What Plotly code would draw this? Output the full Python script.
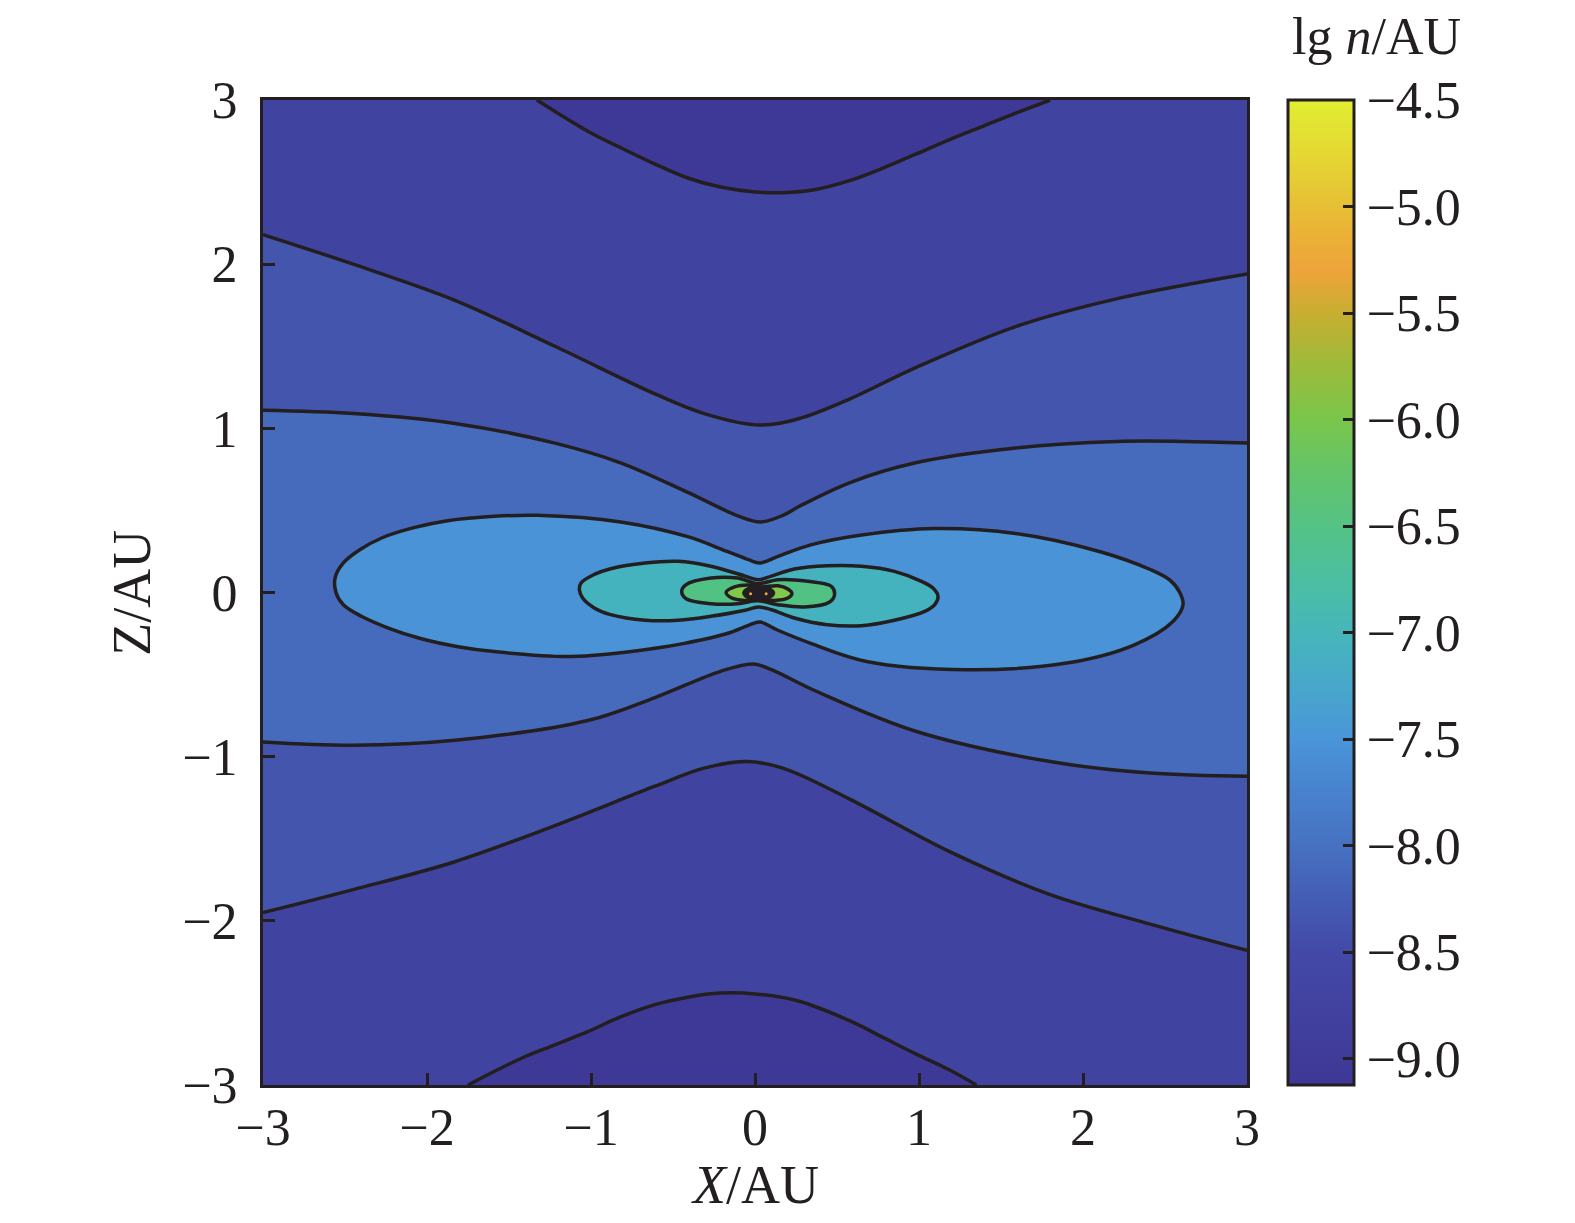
import plotly.graph_objects as go

# lg n contour lines (X/AU, Z/AU)
# -9.0 level: top cap and bottom cap (both end on the frame)
c90_top_x = [-1.33, -1.02, -0.82, -0.61, -0.41, -0.21, 0.00, 0.17, 0.37, 0.58, 0.78, 0.98, 1.19, 1.39, 1.59, 1.80]
c90_top_z = [3.00, 2.81, 2.71, 2.61, 2.525, 2.47, 2.44, 2.435, 2.455, 2.51, 2.585, 2.67, 2.76, 2.84, 2.92, 3.00]
c90_bot_x = [-1.75, -1.43, -1.22, -1.02, -0.82, -0.61, -0.41, -0.21, 0.00, 0.27, 0.58, 0.78, 0.98, 1.19, 1.35]
c90_bot_z = [-3.00, -2.84, -2.755, -2.675, -2.585, -2.51, -2.465, -2.44, -2.445, -2.49, -2.61, -2.71, -2.81, -2.91, -3.00]

# -8.5 level: upper and lower branch, edge to edge
c85_top_x = [-3.00, -2.45, -1.83, -1.22, -0.61, -0.31, 0.03, 0.27, 0.58, 0.98, 1.59, 2.21, 3.00]
c85_top_z = [2.18, 2.00, 1.78, 1.50, 1.21, 1.09, 1.02, 1.06, 1.18, 1.37, 1.62, 1.79, 1.94]
c85_bot_x = [-3.00, -2.45, -1.83, -1.22, -0.61, -0.31, -0.05, 0.17, 0.58, 1.19, 1.80, 2.41, 3.00]
c85_bot_z = [-1.95, -1.81, -1.64, -1.42, -1.18, -1.07, -1.03, -1.07, -1.26, -1.58, -1.84, -2.02, -2.18]

# -8.0 level
c80_top_x = [-3.00, -2.45, -1.83, -1.22, -0.82, -0.41, -0.10, 0.035, 0.17, 0.27, 0.58, 0.98, 1.59, 2.21, 2.61, 3.00]
c80_top_z = [1.11, 1.09, 1.03, 0.91, 0.79, 0.61, 0.465, 0.43, 0.47, 0.525, 0.67, 0.79, 0.88, 0.92, 0.92, 0.91]
c80_bot_x = [-3.00, -2.45, -1.83, -1.02, -0.61, -0.21, -0.01, 0.10, 0.37, 0.98, 1.80, 2.41, 3.00]
c80_bot_z = [-0.91, -0.93, -0.90, -0.78, -0.64, -0.48, -0.435, -0.47, -0.60, -0.845, -1.03, -1.10, -1.12]

# -7.5 level: closed two-lobed loop
c75_x = [-1.33, -0.82, -0.41, -0.17, -0.04, 0.03, 0.14, 0.34, 0.65, 1.09, 1.59, 2.10, 2.41, 2.53,
         2.59, 2.61, 2.55, 2.31, 1.90, 1.29, 0.68, 0.34, 0.14, 0.03, -0.04, -0.17, -0.43, -0.61,
         -1.12, -1.59, -1.81, -2.04, -2.24, -2.40, -2.51, -2.555, -2.56, -2.51, -2.41, -2.27,
         -2.08, -1.875, -1.59, -1.33]
c75_z = [0.47, 0.43, 0.34, 0.25, 0.20, 0.18, 0.22, 0.29, 0.35, 0.39, 0.36, 0.25, 0.14, 0.075,
         0.00, -0.075, -0.175, -0.32, -0.43, -0.47, -0.42, -0.31, -0.23, -0.18, -0.20, -0.25, -0.31, -0.34,
         -0.39, -0.36, -0.33, -0.28, -0.215, -0.145, -0.075, 0.00, 0.09, 0.18, 0.26, 0.335,
         0.395, 0.437, 0.464, 0.47]

# -7.0 level
c70_x = [-0.47, -0.27, -0.06, 0.02, 0.10, 0.24, 0.44, 0.65, 0.85, 1.015, 1.085, 1.116, 1.096,
         1.035, 0.85, 0.65, 0.44, 0.24, 0.10, 0.02, -0.06, -0.27, -0.47, -0.67, -0.88, -0.98,
         -1.051, -1.071, -1.061, -0.98, -0.88, -0.67, -0.47]
c70_z = [0.19, 0.16, 0.10, 0.078, 0.10, 0.143, 0.163, 0.16, 0.129, 0.068, 0.027, -0.023, -0.074,
         -0.115, -0.169, -0.202, -0.196, -0.155, -0.105, -0.088, -0.108, -0.145, -0.169, -0.169, -0.135, -0.094,
         -0.034, 0.017, 0.058, 0.11, 0.145, 0.18, 0.19]

# -6.5 level
c65_x = [-0.27, -0.105, 0.017, 0.139, 0.322, 0.465, 0.485, 0.455, 0.302, 0.139, 0.017,
         -0.105, -0.267, -0.42, -0.447, -0.42, -0.27]
c65_z = [0.088, 0.088, 0.054, 0.078, 0.068, 0.038, -0.013, -0.058, -0.088, -0.074, -0.05,
         -0.068, -0.068, -0.038, 0.007, 0.048, 0.088]

# -6.0 level
c60_x = [-0.044, 0.037, 0.139, 0.20, 0.225, 0.20, 0.119, 0.037, -0.064, -0.145, -0.176, -0.125, -0.044]
c60_z = [0.046, 0.034, 0.041, 0.021, -0.007, -0.034, -0.048, -0.040, -0.048, -0.032, 0.001, 0.034, 0.046]

# -5.5 level (dense core) and the -5.0 spots inside it
c55_x = [-0.034, 0.027, 0.078, 0.113, 0.078, 0.027, -0.034, -0.068, -0.034]
c55_z = [0.027, 0.034, 0.027, -0.003, -0.035, -0.044, -0.035, -0.003, 0.027]
c50_x = [-0.027, 0.068]
c50_z = [-0.007, -0.007]

# colour bar: lg n range and tick labels
cb_min, cb_max = -9.124, -4.5
cb_ticks = [-9.0, -8.5, -8.0, -7.5, -7.0, -6.5, -6.0, -5.5, -5.0, -4.5]
cb_stops = [-9.124, -9.0, -8.5, -8.0, -7.75, -7.5, -7.25, -7.0, -6.75, -6.5, -6.25,
            -6.0, -5.75, -5.5, -5.3, -5.15, -5.0, -4.75, -4.5]
cb_colors = ["#3e3795", "#403b99", "#4349a8", "#4671c1", "#4882ce", "#4a95d9", "#48a7cb",
             "#46b6ba", "#4cbfa2", "#55c285", "#63c46a", "#7ac64c", "#9cbb3a", "#c8ae31",
             "#eea43a", "#ebb036", "#e7bf35", "#e5d834", "#e1ee31"]

INK = "#231f20"
FONT = "Liberation Serif"
fill = {  # region colours, keyed by the lower bounding level
    "lo": "#3e3897", -9.0: "#4143a1", -8.5: "#4455ad", -8.0: "#466bbd",
    -7.5: "#4a93d6", -7.0: "#45b3bd", -6.5: "#52c184", -6.0: "#80c94a", -5.5: "#241d27",
}

fig = go.Figure()
line = dict(color=INK, width=3.5, shape="spline", smoothing=1.0)


def curve(x, z, **kw):
    return go.Scatter(x=x, y=z, mode="lines", line=line, hoverinfo="skip",
                      showlegend=False, **kw)


# lowest region caps (top and bottom)
fig.add_trace(curve(c90_top_x, c90_top_z, fill="toself", fillcolor=fill["lo"]))
fig.add_trace(curve(c90_bot_x, c90_bot_z, fill="toself", fillcolor=fill["lo"]))
# edge-to-edge bands
for (tx, tz, bx, bz, lev) in [(c85_top_x, c85_top_z, c85_bot_x, c85_bot_z, -8.5),
                              (c80_top_x, c80_top_z, c80_bot_x, c80_bot_z, -8.0)]:
    fig.add_trace(curve(tx, tz))
    fig.add_trace(curve(bx, bz, fill="tonexty", fillcolor=fill[lev]))
# closed loops around the source
for (x, z, lev) in [(c75_x, c75_z, -7.5), (c70_x, c70_z, -7.0), (c65_x, c65_z, -6.5),
                    (c60_x, c60_z, -6.0), (c55_x, c55_z, -5.5)]:
    fig.add_trace(curve(x, z, fill="toself", fillcolor=fill[lev]))
fig.add_trace(go.Scatter(x=c50_x, y=c50_z, mode="markers", hoverinfo="skip", showlegend=False,
                         marker=dict(size=3, color="#f0a83a")))

# colour bar carrier
lo, hi = cb_min, cb_max
cscale = [[(v - lo) / (hi - lo), c] for v, c in zip(cb_stops, cb_colors)]
fig.add_trace(go.Scatter(
    x=[0], y=[0], mode="markers", hoverinfo="skip", showlegend=False,
    marker=dict(size=1, opacity=0, color=[lo], colorscale=cscale, cmin=lo, cmax=hi,
                showscale=True,
                colorbar=dict(x=1.0417, xanchor="left", xpad=0, ypad=0, y=0.5, yanchor="middle",
                              len=1, lenmode="fraction", thickness=66,
                              outlinewidth=3, outlinecolor=INK,
                              ticks="inside", ticklen=12, tickwidth=2.5, tickcolor=INK,
                              tickvals=cb_ticks, tickformat=".1f",
                              tickfont=dict(family=FONT, size=52, color=INK))),
))

axis = dict(range=[-3, 3], dtick=1, ticks="inside", ticklen=12, tickwidth=2.5, tickcolor=INK,
            showline=True, linewidth=3, linecolor=INK, mirror=True, showgrid=False,
            zeroline=False, tickfont=dict(family=FONT, size=52, color=INK))
fig.update_layout(
    width=1575, height=1223,
    margin=dict(l=255, r=336, t=92, b=146),
    paper_bgcolor="white", plot_bgcolor=fill[-9.0],
    xaxis=dict(axis, ticklabelstandoff=-5),
    yaxis=dict(axis, ticklabelstandoff=12),
    annotations=[
        dict(text="<i>X</i>/AU", xref="paper", yref="paper", x=0.5, y=-0.1015,
             xanchor="center", yanchor="middle", showarrow=False,
             font=dict(family=FONT, size=54, color=INK)),
        dict(text="Z/AU", xref="paper", yref="paper", x=-0.134, y=0.5, textangle=-90,
             xanchor="center", yanchor="middle", showarrow=False,
             font=dict(family=FONT, size=54, color=INK)),
        dict(text="lg <i>n</i>/AU", xref="paper", yref="paper", x=1.132, y=1.064,
             xanchor="center", yanchor="middle", showarrow=False,
             font=dict(family=FONT, size=52, color=INK)),
    ],
)
fig.write_html("out.html")
